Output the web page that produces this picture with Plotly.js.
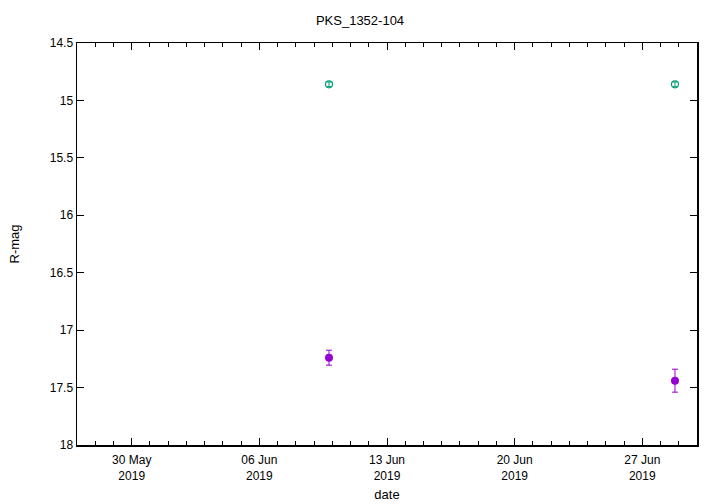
<!DOCTYPE html>
<html>
<head>
<meta charset="utf-8">
<script src="https://cdn.plot.ly/plotly-3.0.1.min.js"></script>
<style>html,body{margin:0;padding:0;background:#fff;}#plot{width:720px;height:504px;}</style>
</head>
<body>
<div id="plot"></div>
<script>
// Data
const datesA = ["2019-06-09 19:40", "2019-06-28 19:00"];
const magA = [14.86, 14.86];
const errA = [0.02, 0.02];

const datesB = ["2019-06-09 19:40", "2019-06-28 19:00"];
const magB = [17.24, 17.44];
const errB = [0.065, 0.10];

const tickVals = ["2019-05-30", "2019-06-06", "2019-06-13", "2019-06-20", "2019-06-27"];
const tickText = ["30 May<br>2019", "06 Jun<br>2019", "13 Jun<br>2019", "20 Jun<br>2019", "27 Jun<br>2019"];
const yTicks = [14.5, 15, 15.5, 16, 16.5, 17, 17.5, 18];

const traces = [
  {
    x: datesA, y: magA, type: 'scatter', mode: 'markers',
    marker: {symbol: 'circle-open', size: 7, color: '#009e73', line: {width: 1.2, color: '#009e73'}},
    error_y: {type: 'data', array: errA, visible: true, color: '#009e73', thickness: 1, width: 2},
    showlegend: false
  },
  {
    x: datesB, y: magB, type: 'scatter', mode: 'markers',
    marker: {symbol: 'circle', size: 8, color: '#9400d3'},
    error_y: {type: 'data', array: errB, visible: true, color: '#9400d3', thickness: 1, width: 3},
    showlegend: false
  }
];

const layout = {
  width: 720, height: 504,
  margin: {l: 77, r: 23, t: 43, b: 59},
  paper_bgcolor: '#fff', plot_bgcolor: '#fff',
  font: {family: 'Liberation Sans, Arial, sans-serif', size: 12, color: '#000'},
  title: {text: 'PKS_1352-104', x: 0.5, xanchor: 'center', y: 0.96, yanchor: 'middle', font: {size: 13}},
  xaxis: {
    type: 'date',
    range: ['2019-05-27 00:00', '2019-06-30 00:00'],
    tickmode: 'array', tickvals: tickVals, ticktext: tickText,
    ticks: 'inside', ticklen: 7, tickcolor: '#000', tickwidth: 1,
    ticklabelstandoff: 3,
    minor: {dtick: 86400000, tick0: '2019-05-27', ticks: 'inside', ticklen: 4, tickcolor: '#000'},
    showline: true, linecolor: '#000', linewidth: 1.5, mirror: 'allticks',
    showgrid: false, zeroline: false,
    title: {text: 'date', standoff: 8, font: {size: 13}}
  },
  yaxis: {
    range: [18, 14.5],
    tickmode: 'array', tickvals: yTicks, ticktext: yTicks.map(String),
    ticks: 'inside', ticklen: 7, tickcolor: '#000', tickwidth: 1,
    showline: true, linecolor: '#000', linewidth: 1.5, mirror: 'allticks',
    showgrid: false, zeroline: false,
    title: {text: 'R-mag', standoff: 27, font: {size: 13}}
  }
};

Plotly.newPlot('plot', traces, layout, {staticPlot: true, displayModeBar: false});
</script>
</body>
</html>
